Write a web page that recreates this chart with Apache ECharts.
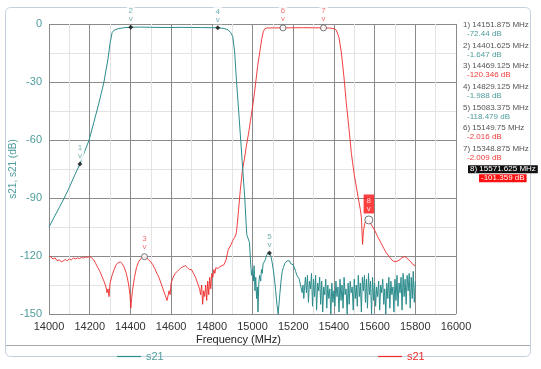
<!DOCTYPE html>
<html><head><meta charset="utf-8">
<script src="https://cdn.jsdelivr.net/npm/echarts@6/dist/echarts.min.js"></script>
<style>html,body{margin:0;padding:0;background:#fff}#c{width:541px;height:369px}</style>
</head><body><div id="c"></div>
<script>
// ---- data ----
const xTicks = [14000,14200,14400,14600,14800,15000,15200,15400,15600,15800,16000];
const yTicks = [0,-30,-60,-90,-120,-150];

// trace 1 (teal s21): [MHz, dB]
const tealTrace = [
 [14000,-105],[14025,-100],[14050,-95],[14075,-90],[14100,-84.5],[14125,-78.5],[14152,-72.4],[14175,-66],[14197,-60],
 [14220,-51],[14245,-41],[14270,-30],[14290,-18],[14300,-10],[14310,-4.5],[14320,-3.2],[14340,-2.4],[14370,-1.9],
 [14402,-1.65],[14450,-1.6],[14500,-1.7],[14550,-1.8],[14600,-1.8],[14650,-1.75],[14700,-1.8],[14750,-1.85],[14800,-1.9],
 [14830,-1.99],[14860,-2.3],[14880,-3.0],[14893,-4.5],[14903,-6.5],[14912,-14],[14921,-29],[14932,-45],[14942,-60],
 [14952,-75],[14962,-90],[14968,-102],[14972,-109],[14977,-108],[14981,-109],[14985,-113],[14990,-122],[14995,-130],
 [15000,-127],[15004,-133],[15008,-125],[15012,-138],[15016,-131],[15020,-142],[15024,-136],[15027,-149],[15031,-134],
 [15035,-130],[15040,-133],[15044,-127],[15048,-129],[15052,-124],[15058,-125],[15063,-122],[15068,-120],[15074,-118.8],
 [15080,-118.3],[15084,-118.5],[15090,-120],[15096,-123],[15102,-127],[15108,-132],[15114,-138],[15120,-145],[15126,-150],
 [15130,-149],[15134,-140],[15140,-133],[15146,-128],[15152,-126],[15158,-124],[15164,-123],[15170,-122.5],[15176,-122],
 [15182,-122.5],[15188,-124],[15194,-125],[15200,-124.5],[15206,-126],[15212,-128],[15218,-130],[15224,-131],[15230,-132],
 [15236,-135],[15240,-134],[15244,-139],[15248,-135],[15252,-142],[15256,-136],
 [15260,-131],[15265,-139],[15270,-130],[15275,-144],[15280,-133],[15285,-137],[15290,-129],[15295,-146],[15300,-132],
 [15305,-141],[15310,-130],[15315,-148],[15320,-134],[15325,-138],[15330,-131],[15335,-145],[15340,-133],[15345,-149],
 [15350,-136],[15355,-140],[15360,-132],[15365,-147],[15370,-135],[15375,-142],[15380,-137],[15385,-150],[15390,-134],
 [15395,-144],[15400,-138],[15405,-146],[15410,-133],[15415,-141],[15420,-136],[15425,-149],[15430,-132],[15435,-143],
 [15440,-135],[15445,-147],[15450,-131],[15455,-140],[15460,-137],[15465,-150],[15470,-134],[15475,-145],[15480,-133],
 [15485,-139],[15490,-136],[15495,-148],[15500,-132],[15505,-142],[15510,-135],[15515,-146],[15520,-130],[15525,-141],
 [15530,-134],[15535,-149],[15540,-131],[15545,-138],[15550,-130],[15555,-144],[15560,-132],[15565,-147],[15570,-129],
 [15575,-140],[15580,-133],[15585,-150],[15590,-131],[15595,-143],[15600,-134],[15605,-146],[15610,-136],[15615,-141],
 [15620,-133],[15625,-148],[15630,-135],[15635,-139],[15640,-132],[15645,-145],[15650,-137],[15655,-150],[15660,-134],
 [15665,-142],[15670,-131],[15675,-147],[15680,-133],[15685,-140],[15690,-136],[15695,-149],[15700,-132],[15705,-143],
 [15710,-130],[15715,-146],[15720,-134],[15725,-139],[15730,-131],[15735,-148],[15740,-129],[15745,-141],[15750,-132],
 [15755,-145],[15760,-130],[15765,-138],[15770,-129],[15775,-147],[15780,-131],[15785,-142],[15790,-128],[15795,-144],[15800,-133]
];

// trace 2 (red s21): [MHz, dB]
const redTrace = [
 [14000,-120],[14010,-120.5],[14020,-121.5],[14030,-121],[14040,-122.5],[14050,-122],[14060,-123],[14070,-122.5],
 [14080,-121.8],[14090,-122.5],[14100,-121.5],[14110,-122],[14120,-121],[14130,-121.5],[14140,-121],[14150,-121.3],
 [14160,-120.8],[14170,-121],[14180,-120.5],[14190,-120.7],[14200,-120.3],[14210,-121],[14220,-122],[14230,-124],
 [14240,-126],[14250,-128],[14260,-130.5],[14270,-133],[14280,-136],[14285,-139],[14290,-137],[14295,-141],[14300,-134],
 [14310,-130],[14320,-127],[14330,-124.5],[14340,-123.5],[14350,-123],[14360,-124],[14370,-126],[14380,-129],[14390,-134],
 [14398,-140],[14402,-147],[14406,-142],[14410,-138],[14420,-131],[14430,-126],[14440,-123],[14450,-121.5],[14460,-120.6],
 [14469,-120.3],[14480,-121],[14490,-122],[14500,-123],[14510,-124.5],[14520,-126.5],[14530,-129],[14540,-131],[14550,-134],
 [14560,-137],[14570,-140],[14580,-143],[14585,-144],[14590,-138],[14595,-140],[14600,-134],[14610,-131],[14620,-129],
 [14630,-128],[14640,-127],[14650,-126],[14660,-125.5],[14670,-125],[14680,-126],[14690,-127],[14700,-127],[14710,-129],
 [14720,-131],[14730,-134],[14740,-137],[14745,-140],[14750,-135],[14755,-145],[14760,-138],[14765,-141],[14770,-135],
 [14775,-143],[14780,-133],[14785,-140],[14790,-131],[14795,-137],[14800,-129],[14805,-131],[14810,-127],[14815,-129],
 [14820,-126],[14830,-126.5],[14840,-125.5],[14850,-125],[14860,-124.5],[14870,-122],[14880,-117],[14888,-116],[14895,-114],
 [14903,-112],[14912,-110.5],[14921,-108],[14930,-98],[14940,-86],[14950,-76],[14960,-70],[14970,-63],[14980,-57],
 [14990,-50],[15003,-41],[15015,-31],[15025,-22],[15035,-15],[15045,-8],[15053,-4],[15060,-2.5],[15070,-2.1],[15100,-2.0],
 [15150,-2.0],[15200,-1.95],[15250,-1.9],[15300,-1.95],[15349,-2.0],[15380,-2.1],[15400,-2.4],[15412,-3.2],[15425,-7],
 [15437,-15],[15450,-28],[15461,-41],[15474,-54],[15486,-67],[15500,-78],[15518,-89],[15530,-96],[15535,-100],[15538,-107],
 [15541,-114],[15545,-107],[15552,-103],[15560,-101.5],[15571,-101.4],[15585,-104],[15600,-106.6],[15615,-110],[15630,-113],
 [15645,-116],[15658,-118.5],[15670,-120],[15680,-121.5],[15690,-122.5],[15700,-123],[15707,-123.3],[15715,-122.5],
 [15725,-121.8],[15735,-120.8],[15748,-120.3],[15758,-121],[15768,-122],[15778,-123],[15789,-124.5],[15800,-125]
];

// markers
const markerNum   = [1,2,3,4,5,6,7,8];
const markerFreq  = [14151.875,14401.625,14469.125,14829.125,15083.375,15149.75,15348.875,15571.625];
const markerDb    = [-72.44,-1.647,-120.346,-1.988,-118.479,-2.016,-2.009,-101.359];
const markerFreqText = ['14151.875','14401.625','14469.125','14829.125','15083.375','15149.75','15348.875','15571.625'];
const markerDbText   = ['-72.44','-1.647','-120.346','-1.988','-118.479','-2.016','-2.009','-101.359'];
const markerTrace = [0,0,1,0,0,1,1,1];   // 0 = teal trace, 1 = red trace
const activeMarker = 8;

// ---- styles ----
const TEAL = '#2c8c8c', TEAL_TXT = '#4f9c9c', RED = '#ee2a2a';

function markerData(trace){
  const out = [];
  markerNum.forEach((n,i)=>{
    if (markerTrace[i] !== trace) return;
    const active = n === activeMarker;
    out.push({
      value:[markerFreq[i], markerDb[i]], n:n,
      symbol: trace===0 ? 'diamond' : 'circle',
      symbolSize: trace===0 ? 5 : (active ? 8 : 6),
      itemStyle: trace===0 ? {color:'#111'} : {color:'#fff', borderColor:'#555', borderWidth:1},
      label: active ? {backgroundColor:'#ff1010', color:'#fff', padding:[2,3,1,3], distance:2} : {}
    });
  });
  return out;
}

const graphics = [
  {type:'rect', shape:{x:5.5,y:7.5,width:525,height:349,r:5}, style:{fill:'none',stroke:'#c2d0de',lineWidth:1}, z:-1},
  {type:'line', shape:{x1:6,y1:345.5,x2:530,y2:345.5}, style:{stroke:'#a8a8a8',lineWidth:1}}
];
markerNum.forEach((n,i)=>{
  const y = 25 + i*20.6;
  const active = n === activeMarker;
  const col = markerTrace[i]===0 ? TEAL_TXT : '#f03c3c';
  graphics.push({type:'text', left:active?468:463, top:y-4, z:10, style:{
    text: n + ') ' + markerFreqText[i] + ' MHz', fontSize:8, fontFamily:'Liberation Sans, Arial',
    fill: active ? '#fff' : '#555', backgroundColor: active ? '#111' : null, padding: active?[0,2]:0 }});
  graphics.push({type:'text', left:active?479:467, top:y+5, z:10, style:{
    text: markerDbText[i] + ' dB', fontSize:8, fontFamily:'Liberation Sans, Arial',
    fill: active ? '#fff' : col, backgroundColor: active ? '#ff1010' : null, padding: active?[0,2]:0 }});
});

const chart = echarts.init(document.getElementById('c'), null, {renderer:'canvas'});
chart.setOption({
  animation:false,
  textStyle:{fontFamily:'Liberation Sans, Arial'},
  grid:{left:49, right:85, top:24, bottom:55, outerBoundsMode:'none', containLabel:false},
  xAxis:{
    type:'value', min:xTicks[0], max:xTicks[xTicks.length-1], interval:200,
    name:'Frequency (MHz)', nameLocation:'middle', nameGap:20, nameMoveOverlap:false,
    nameTextStyle:{fontSize:11, color:'#222', padding:[0,28,0,0]},
    axisLine:{show:false}, axisTick:{show:false},
    axisLabel:{fontSize:11, color:'#333', margin:7, formatter:v=>String(v)},
    splitLine:{show:true, lineStyle:{color:'#8a8a8a', width:1}},
    minorTick:{show:false, splitNumber:2},
    minorSplitLine:{show:true, lineStyle:{color:'#e3e3e3', width:1}}
  },
  yAxis:{
    type:'value', min:yTicks[yTicks.length-1], max:yTicks[0], interval:30,
    name:'s21, s21 (dB)', nameLocation:'middle', nameGap:31, nameMoveOverlap:false,
    nameTextStyle:{fontSize:10, color:TEAL_TXT},
    axisLine:{show:false}, axisTick:{show:false},
    axisLabel:{fontSize:11, color:TEAL_TXT, margin:7, formatter:v=>String(v)},
    splitLine:{show:true, lineStyle:{color:'#8a8a8a', width:1}},
    minorTick:{show:false, splitNumber:2},
    minorSplitLine:{show:true, lineStyle:{color:'#e3e3e3', width:1}}
  },
  legend:[
    {data:['s21'], left:112, top:346, icon:'rect', itemWidth:24, itemHeight:1.2, itemGap:3,
     textStyle:{fontSize:11, color:TEAL_TXT}, formatter:()=>'s21'},
    {data:['s21 (2)'], left:373, top:346, icon:'rect', itemWidth:24, itemHeight:1.2, itemGap:3,
     textStyle:{fontSize:11, color:RED}, formatter:()=>'s21'}
  ],
  graphic: graphics,
  series:[
    {name:'s21', type:'line', data:tealTrace, showSymbol:false, symbol:'none',
     lineStyle:{color:TEAL, width:1}, itemStyle:{color:TEAL}, z:3},
    {name:'s21 (2)', type:'line', data:redTrace, showSymbol:false, symbol:'none',
     lineStyle:{color:RED, width:0.9}, itemStyle:{color:RED}, z:2},
    {type:'scatter', data:markerData(0), z:5,
     label:{show:true, position:'top', distance:1, fontSize:8, lineHeight:8, color:TEAL_TXT,
       backgroundColor:'#fff', padding:[1,2,1,2], formatter:p=>p.data.n+'\nv'}},
    {type:'scatter', data:markerData(1), z:5,
     label:{show:true, position:'top', distance:1, fontSize:8, lineHeight:8, color:'#f05050',
       backgroundColor:'#fff', padding:[1,2,1,2], formatter:p=>p.data.n+'\nv'}}
  ]
});
</script>
</body></html>
